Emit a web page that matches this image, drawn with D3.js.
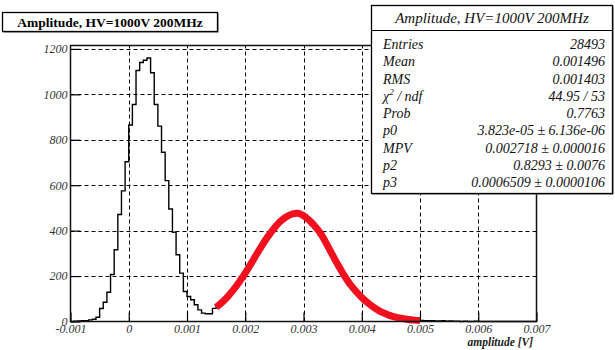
<!DOCTYPE html>
<html><head><meta charset="utf-8">
<script src="https://cdn.jsdelivr.net/npm/d3@7"></script>
<style>
html,body{margin:0;padding:0;background:#fff;}
svg{display:block;}
text{font-family:"Liberation Serif","Times New Roman",serif;}
</style></head>
<body>
<svg id="c" width="615" height="350"></svg>
<script>
// ---------- data ----------
const histTitle = "Amplitude, HV=1000V 200MHz";
const xAxisTitle = "amplitude [V]";
const binLow = -0.001, binHigh = 0.007;
// 128 bins, counts per bin
const binCounts = [
  0,1,2,3,4,7,10,19,57,85,129,207,316,471,575,703,865,955,1105,1140,
  1150,1160,1095,955,860,745,620,495,393,294,213,132,110,96,74,51,37,34,34,58,
  66,80,101,112,140,150,182,196,230,250,284,300,336,352,387,398,428,432,458,460,
  477,472,484,466,470,443,425,418,382,360,345,300,283,242,224,198,160,155,126,118,
  97,92,70,68,54,50,38,36,27,26,19,18,12,11,7,6,
  5,4,3,4,2,2,3,1,2,1,1,0,1,0,0,1,
  0,0,0,0,0,0,0,0,0,0,0,0,0,0,0,0
];
// fit curve
const fitX = [0.0015,0.0016,0.0017,0.0018,0.0019,0.0020,0.0021,0.0022,0.0023,0.0024,
              0.0025,0.0026,0.0027,0.0028,0.0029,0.0030,0.0031,0.0032,0.0033,0.0034,
              0.0035,0.0036,0.0037,0.0038,0.0039,0.0040,0.0041,0.0042,0.0043,0.0044,
              0.0045,0.0046,0.0047,0.0048,0.0049,0.0050];
const fitY = [62,84,110,140,175,213,255,298,340,378,
              412,440,460,473,476,466,445,418,385,340,
              292,245,202,164,133,106,83,63,47,35,
              25,18,13,9,6,4];
const xTicks = [-0.001,0,0.001,0.002,0.003,0.004,0.005,0.006,0.007];
const xTickLabels = ["-0.001","0","0.001","0.002","0.003","0.004","0.005","0.006","0.007"];
const yTicks = [0,200,400,600,800,1000,1200];
const yTickLabels = ["0","200","400","600","800","1000","1200"];
const statsTitle = "Amplitude, HV=1000V 200MHz";
const statNames = ["Entries","Mean","RMS","CHI","Prob","p0","MPV","p2","p3"];
const statValues = ["28493","0.001496","0.001403","44.95 / 53","0.7763",
  "3.823e-05 \u00b1 6.136e-06","0.002718 \u00b1 0.000016","0.8293 \u00b1 0.0076","0.0006509 \u00b1 0.0000106"];

// ---------- layout ----------
const L = 70.5, R = 536.5, T = 45.5, B = 321.5;
const svg = d3.select("#c");
const x = d3.scaleLinear().domain([binLow, binHigh]).range([L, R]);
const y = d3.scaleLinear().domain([0, 1215]).range([B, T]);

// grid
const grid = svg.append("g").attr("stroke","#000").attr("stroke-width",1).attr("stroke-dasharray","4,3");
grid.selectAll("line.v").data(xTicks.slice(1,-1)).join("line")
  .attr("x1",d=>Math.round(x(d))+0.5).attr("x2",d=>Math.round(x(d))+0.5).attr("y1",B).attr("y2",T);
grid.selectAll("line.h").data(yTicks.slice(1)).join("line")
  .attr("y1",d=>Math.round(y(d))+0.5).attr("y2",d=>Math.round(y(d))+0.5).attr("x1",L).attr("x2",R);

// histogram
const bw = (binHigh - binLow) / binCounts.length;
const pts = binCounts.map((v,i)=>[binLow + i*bw, v]);
pts.push([binHigh, binCounts[binCounts.length-1]]);
svg.append("path").datum(pts)
  .attr("fill","none").attr("stroke","#000").attr("stroke-width",1.4)
  .attr("d", d3.line().x(d=>x(d[0])).y(d=>y(d[1])).curve(d3.curveStepAfter));

// fit
svg.append("path").datum(fitX.map((v,i)=>[v,fitY[i]]))
  .attr("fill","none").attr("stroke","#f0101e").attr("stroke-width",7)
  .attr("d", d3.line().x(d=>x(d[0])).y(d=>y(d[1])).curve(d3.curveMonotoneX));

// axes
const minorX = d3.range(-0.001, 0.00701, 0.0002).filter(v=>Math.abs(Math.round(v*1000)-v*1000)>1e-6);
const minorY = d3.range(0, 1201, 50).filter(v=>v%200!==0);
const gx = svg.append("g").attr("transform",`translate(0,${B})`);
gx.call(d3.axisBottom(x).tickValues(minorX).tickFormat("").tickSizeInner(-5).tickSizeOuter(0));
gx.call(d3.axisBottom(x).tickValues(xTicks).tickFormat((d,i)=>xTickLabels[i]).tickSizeInner(-9).tickSizeOuter(0).tickPadding(3));
const gy = svg.append("g").attr("transform",`translate(${L},0)`);
gy.call(d3.axisLeft(y).tickValues(minorY).tickFormat("").tickSizeInner(-8).tickSizeOuter(0));
gy.call(d3.axisLeft(y).tickValues(yTicks).tickFormat((d,i)=>yTickLabels[i]).tickSizeInner(-10).tickSizeOuter(0).tickPadding(3));
svg.selectAll(".domain").remove();
svg.selectAll(".tick line").attr("stroke","#000").attr("stroke-width",1.2);
svg.selectAll(".tick text").attr("font-family","'Liberation Serif',serif").attr("font-style","italic")
  .attr("font-size",12).attr("fill","#333");

// frame
svg.append("rect").attr("x",L).attr("y",T).attr("width",R-L).attr("height",B-T)
  .attr("fill","none").attr("stroke","#111").attr("stroke-width",1.5);

// axis title
svg.append("text").attr("x",533).attr("y",346).attr("text-anchor","end")
  .attr("font-size",11.5).attr("font-style","italic").attr("font-weight","bold").attr("fill","#222")
  .text(xAxisTitle);

// title box
svg.append("rect").attr("x",3.5).attr("y",13.5).attr("width",215).attr("height",19).attr("fill","#555");
svg.append("rect").attr("x",2.5).attr("y",12.5).attr("width",215).attr("height",19)
  .attr("fill","#fff").attr("stroke","#000").attr("stroke-width",1.3);
svg.append("text").attr("x",110).attr("y",27).attr("text-anchor","middle")
  .attr("font-size",13.5).attr("font-weight","bold").attr("fill","#000").text(histTitle);

// stats box
const sx = 371.5, sy = 5.5, sw = 241, sh = 188;
svg.append("rect").attr("x",sx+1).attr("y",sy+1).attr("width",sw).attr("height",sh).attr("fill","#555");
svg.append("rect").attr("x",sx).attr("y",sy).attr("width",sw).attr("height",sh)
  .attr("fill","#fff").attr("stroke","#000").attr("stroke-width",1.3);
svg.append("line").attr("x1",sx).attr("x2",sx+sw).attr("y1",30.5).attr("y2",30.5).attr("stroke","#000").attr("stroke-width",1.2);
svg.append("text").attr("x",sx+sw/2).attr("y",23).attr("text-anchor","middle")
  .attr("font-size",15).attr("font-style","italic").attr("fill","#111").text(statsTitle);
const rowY0 = 49, rowDy = 17.25;
statNames.forEach((n,i)=>{
  const t = svg.append("text").attr("x",383).attr("y",rowY0+i*rowDy)
    .attr("font-size",14).attr("font-style","italic").attr("fill","#111");
  if(n==="CHI"){
    t.append("tspan").text("\u03c7");
    t.append("tspan").attr("font-size",9).attr("dy",-6).text("2");
    t.append("tspan").attr("dy",6).text(" / ndf");
  } else t.text(n);
  svg.append("text").attr("x",605).attr("y",rowY0+i*rowDy).attr("text-anchor","end")
    .attr("font-size",14).attr("font-style","italic").attr("fill","#111").text(statValues[i]);
});
</script>
</body></html>
